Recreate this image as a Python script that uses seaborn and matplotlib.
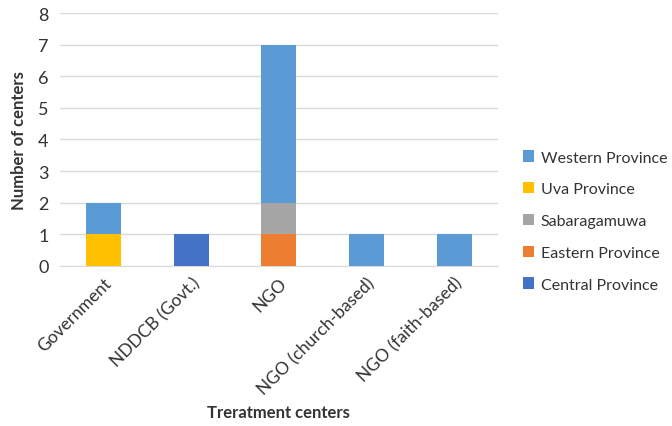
import numpy as np
import matplotlib
matplotlib.use("Agg")
import matplotlib.pyplot as plt
import seaborn as sns

# data
centers = ['Government', 'NDDCB (Govt.)', 'NGO', 'NGO (church-based)', 'NGO (faith-based)']
central = [0, 1, 0, 0, 0]
eastern = [0, 0, 1, 0, 0]
sabaragamuwa = [0, 0, 1, 0, 0]
uva = [1, 0, 0, 0, 0]
western = [1, 0, 5, 1, 1]

series = [('Central Province', central, '#4472C4'),
          ('Eastern Province', eastern, '#ED7D31'),
          ('Sabaragamuwa', sabaragamuwa, '#A5A5A5'),
          ('Uva Province', uva, '#FFC000'),
          ('Western Province', western, '#5B9BD5')]

sns.set_style("white")
plt.rcParams['font.family'] = ['Lato', 'DejaVu Sans']
txt = '#333333'

fig = plt.figure(figsize=(6.72, 4.27), dpi=100)
ax = fig.add_axes([0.089, 0.375, 0.652, 0.592])

# stacked bars: draw running totals from the top down so lower segments sit on top
totals = np.cumsum([np.array(s[1]) for s in series], axis=0)
for i in range(len(series) - 1, -1, -1):
    name, _, col = series[i]
    sns.barplot(x=centers, y=totals[i], color=col, width=0.4, label=name,
                saturation=1, linewidth=0, ax=ax, zorder=3)

ax.set_ylim(0, 8)
ax.set_xlim(-0.5, 4.5)
ax.set_yticks(range(0, 9))
ax.yaxis.grid(True, color='#D9D9D9', linewidth=1, zorder=0)
ax.set_axisbelow(True)
for s in ['top', 'right', 'left']:
    ax.spines[s].set_visible(False)
ax.spines['bottom'].set_color('#D9D9D9')
ax.tick_params(axis='y', length=0, labelsize=13, colors=txt, pad=8)
ax.tick_params(axis='x', length=0, labelsize=12.5, colors=txt, pad=6)
plt.setp(ax.get_xticklabels(), rotation=45, ha='right', rotation_mode='anchor')

ax.set_xlabel('Treratment centers', fontsize=12, fontweight='bold', color=txt)
ax.xaxis.set_label_coords(0.5, -0.545)
ax.set_ylabel('Number of centers', fontsize=12, fontweight='bold', color=txt, labelpad=8)

leg = ax.legend(loc='center left', bbox_to_anchor=(0.757, 0.48), bbox_transform=fig.transFigure,
                frameon=False, fontsize=11.5, handlelength=0.7, handleheight=0.7,
                handletextpad=0.4, labelspacing=1.1)
for t in leg.get_texts():
    t.set_color(txt)

fig.savefig('out.png', dpi=100)
